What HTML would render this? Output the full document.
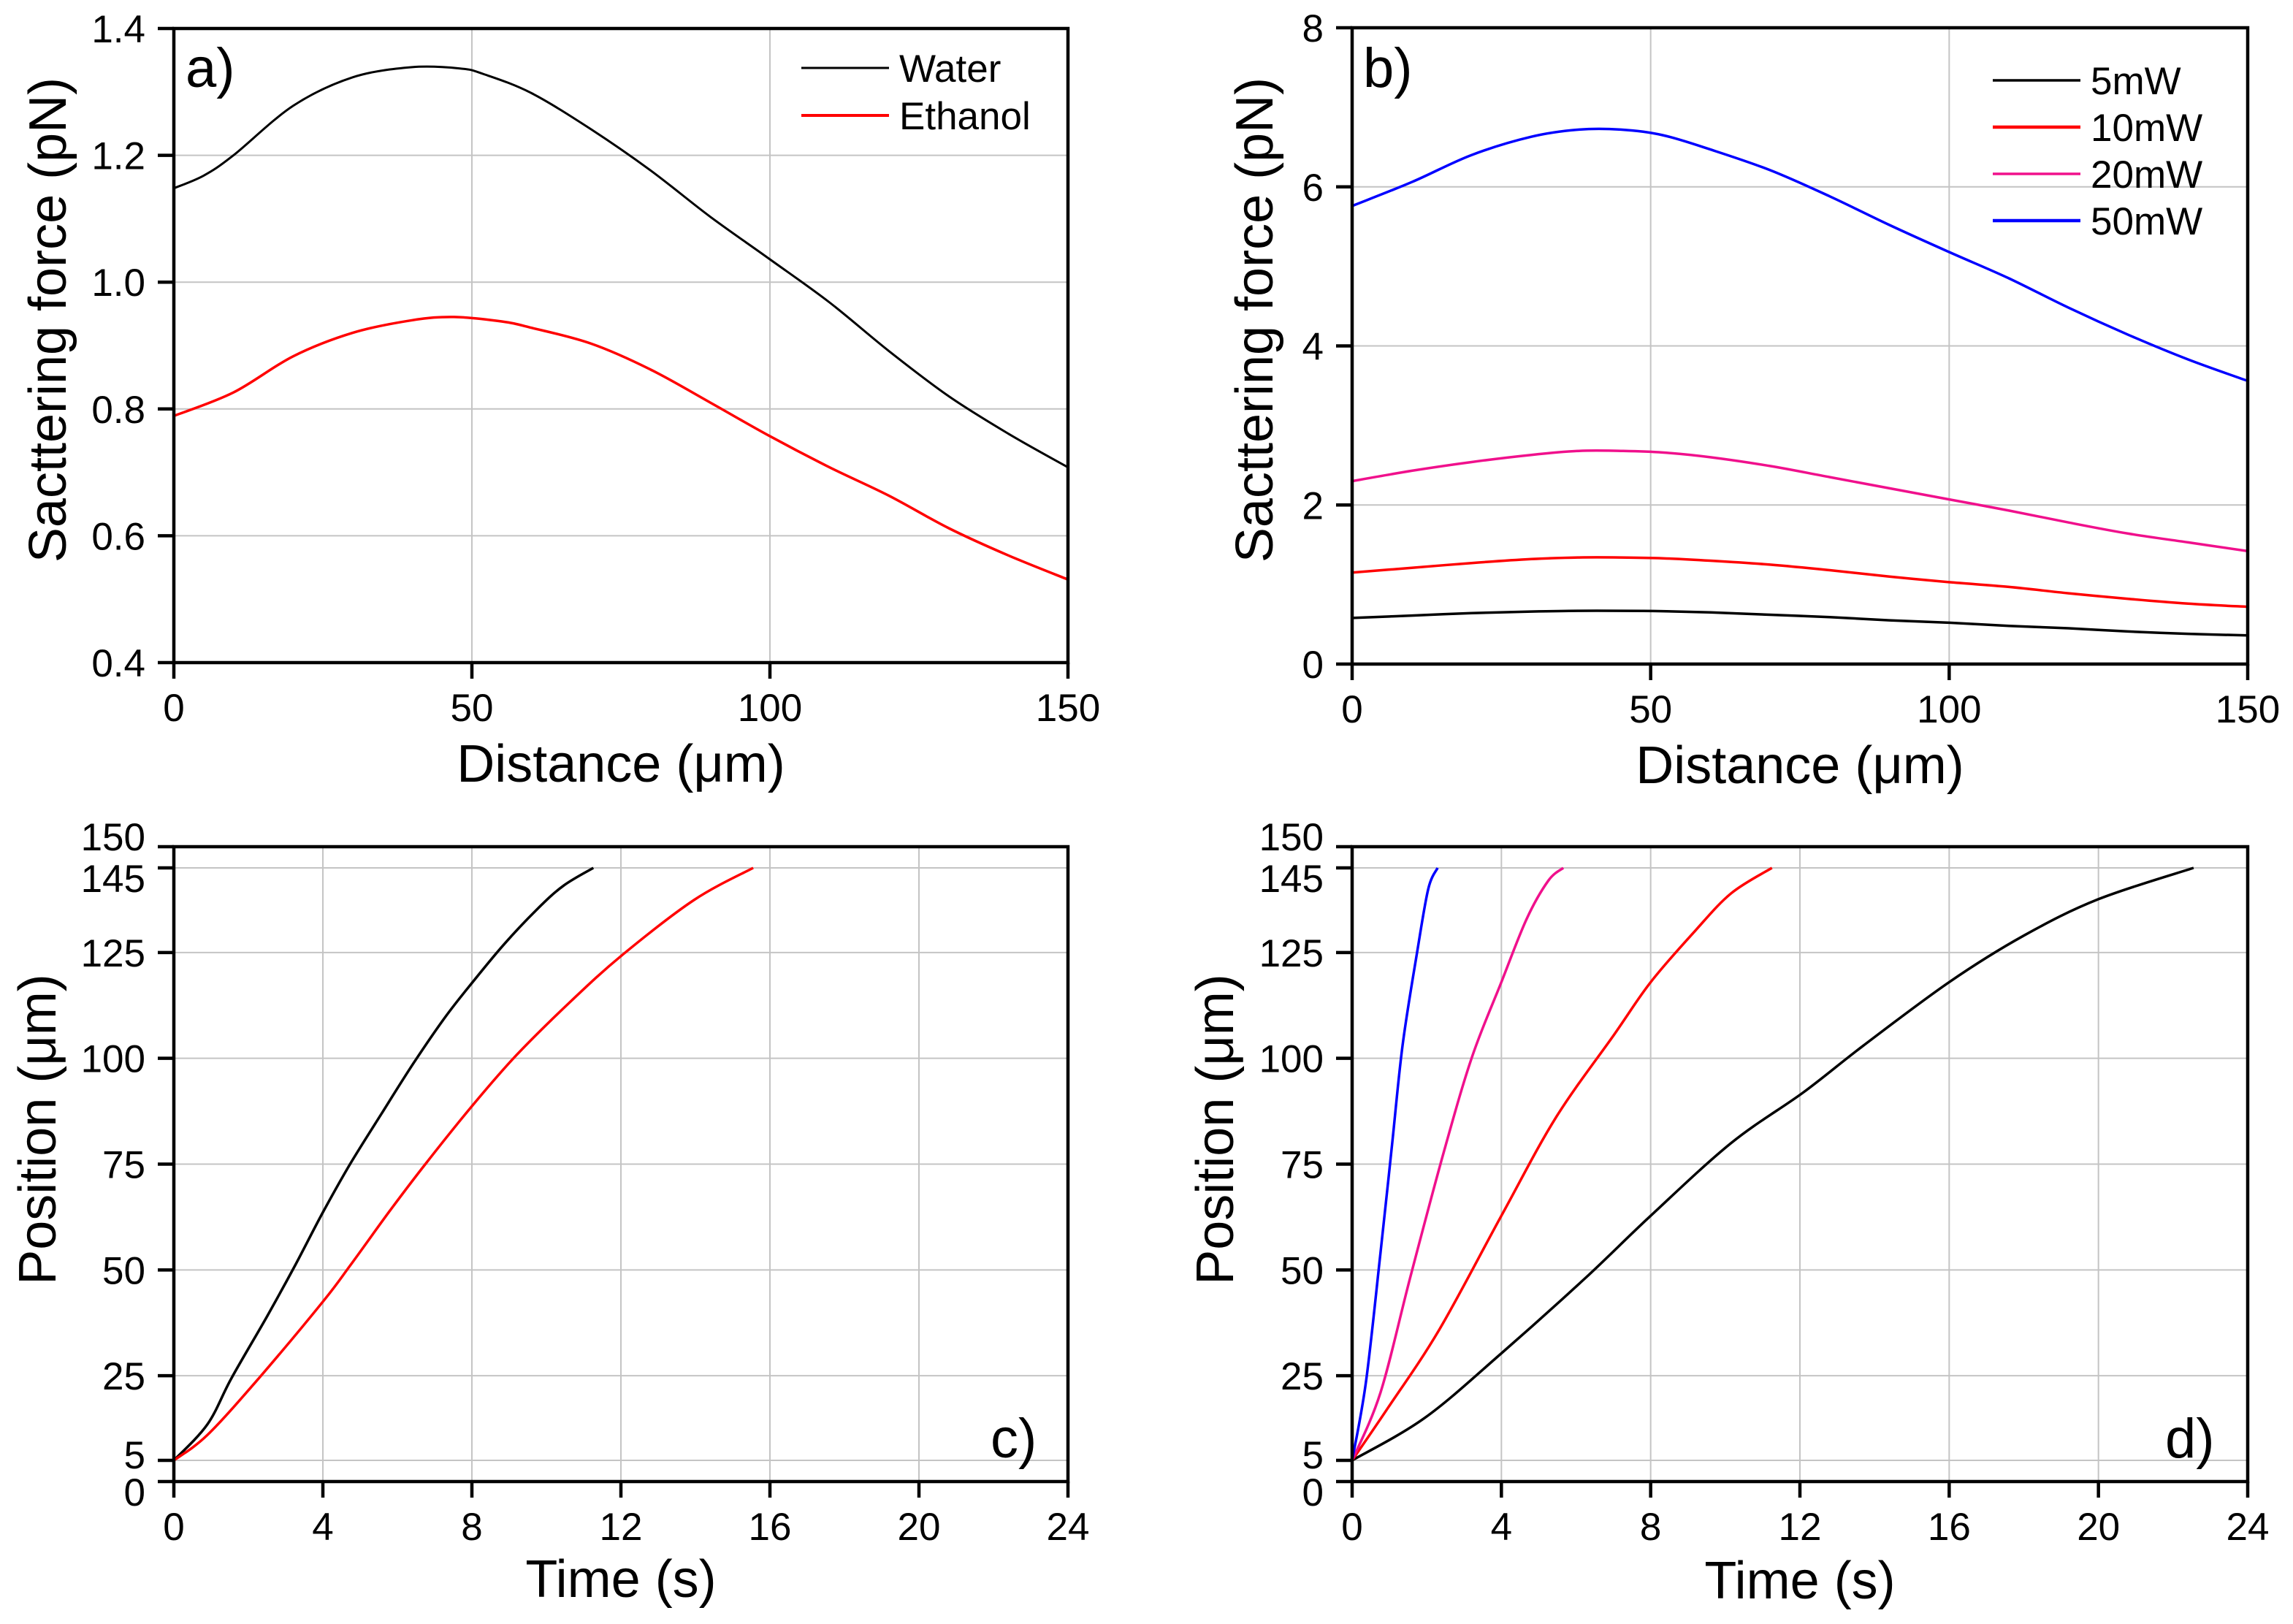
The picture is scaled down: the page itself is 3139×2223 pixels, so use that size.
<!DOCTYPE html>
<html><head><meta charset="utf-8"><style>
html,body{margin:0;padding:0;background:#fff}
svg{display:block}
text{font-family:"Liberation Sans",Arial,sans-serif;fill:#000}
</style></head><body>
<svg id="fig" width="3139" height="2223" viewBox="0 0 3139 2223" xmlns="http://www.w3.org/2000/svg">
<rect width="3139" height="2223" fill="#fff"/>
</svg>
<script>
// Panel a data
const aX = [0,5,10,20,30,40,48,52,60,70,80,90,100,110,120,130,140,150];
const aWater = [1.148,1.168,1.20,1.278,1.323,1.339,1.337,1.328,1.298,1.241,1.176,1.103,1.036,0.968,0.891,0.820,0.761,0.708];
const aEthX = [0,10,20,30,40,47,55,60,70,80,90,100,110,120,130,140,150];
const aEthanol = [0.789,0.826,0.883,0.92,0.94,0.945,0.938,0.928,0.903,0.862,0.81,0.757,0.708,0.663,0.612,0.569,0.531];
const aXTicks = [0,50,100,150];
const aYTicks = [0.4,0.6,0.8,1.0,1.2,1.4];
const aYLabels = ["0.4","0.6","0.8","1.0","1.2","1.4"];
// Panel b data
const bX = [0,10,20,30,38,45,52,60,70,80,90,100,110,120,130,140,150];
const b50 = [5.76,6.06,6.4,6.63,6.72,6.72,6.65,6.47,6.21,5.88,5.52,5.18,4.85,4.48,4.14,3.83,3.56];
const b20 = [2.30,2.43,2.54,2.63,2.68,2.68,2.66,2.60,2.49,2.35,2.21,2.07,1.93,1.78,1.64,1.53,1.42];
const b10 = [1.15,1.21,1.27,1.32,1.34,1.34,1.33,1.30,1.25,1.18,1.10,1.03,0.97,0.89,0.82,0.76,0.72];
const b5 = [0.58,0.61,0.64,0.66,0.67,0.67,0.665,0.65,0.62,0.59,0.55,0.52,0.48,0.45,0.41,0.38,0.36];
const bXTicks = [0,50,100,150];
const bYTicks = [0,2,4,6,8];
// Panel c data
const cWaterT = [0,0.9,1.55,2.5,3.25,4,4.73,5.58,6.43,7.28,8.02,8.87,9.77,10.46,11.26];
const cWaterP = [5,13.5,24.5,39,51,63.6,75,87,98.8,109.7,118,127,135.4,140.8,145];
const cEthT = [0,0.9,2.29,4,4.73,5.8,6.75,8.02,9.19,10.67,12.05,13.96,15.55];
const cEthP = [5,11,24.5,42.5,51,64,75,88.9,100.7,113.6,124.5,137.4,145];
const tTicks = [0,4,8,12,16,20,24];
const pTicks = [0,5,25,50,75,100,125,145,150];
// Panel d data
const d50T = [0,0.37,0.76,1.06,1.35,1.74,2.04,2.29];
const d50P = [5,23.5,54,78.7,103,125,140,145];
const d20T = [0,0.76,1.55,2.43,3.2,4,4.68,5.26,5.66];
const d20P = [5,21,48,77,100,118,133,142,145];
const d10T = [0,0.96,2.33,4,5.46,7.03,8,9.18,10.16,11.25];
const d10P = [5,17.4,35.8,62.8,86,105.7,118,130,139,145];
const d5T = [0,1.94,4,6.24,8,10.16,12.1,13.7,16,18,20,22.55];
const d5P = [5,15,30.3,48,62.8,80,92,103,118,129,137.6,145];

const NS="http://www.w3.org/2000/svg";
const svg=document.getElementById('fig');
function mk(tag,attrs,parent){const e=document.createElementNS(NS,tag);for(const k in attrs)e.setAttribute(k,attrs[k]);(parent||svg).appendChild(e);return e;}
function txt(s,x,y,size,anchor,parent,rot){const e=mk('text',{x:x,y:y,'font-size':size,'text-anchor':anchor||'middle'},parent);if(rot)e.setAttribute('transform',rot);e.textContent=s;return e;}
function smoothPath(pts){
  let d='M'+pts[0][0].toFixed(1)+','+pts[0][1].toFixed(1);
  for(let i=0;i<pts.length-1;i++){
    const p0=pts[i-1]||pts[i],p1=pts[i],p2=pts[i+1],p3=pts[i+2]||p2;
    const c1=[p1[0]+(p2[0]-p0[0])/6,p1[1]+(p2[1]-p0[1])/6];
    const c2=[p2[0]-(p3[0]-p1[0])/6,p2[1]-(p3[1]-p1[1])/6];
    d+=' C'+c1.map(v=>v.toFixed(1)).join(',')+' '+c2.map(v=>v.toFixed(1)).join(',')+' '+p2.map(v=>v.toFixed(1)).join(',');
  }
  return d;
}

function panel(cfg){
  const g=mk('g',{});
  
  
  const L=cfg.L,R=cfg.R,T=cfg.T,B=cfg.B;
  const sx=v=>L+(v-cfg.x0)/(cfg.x1-cfg.x0)*(R-L);
  const sy=v=>B-(v-cfg.y0)/(cfg.y1-cfg.y0)*(B-T);
  cfg.xt.forEach(v=>{const l=mk('line',{x1:sx(v),x2:sx(v),y1:T,y2:B,stroke:'#c4c4c4','stroke-width':2},g);
    });
  cfg.yt.forEach(v=>{const l=mk('line',{x1:L,x2:R,y1:sy(v),y2:sy(v),stroke:'#c4c4c4','stroke-width':2},g);
    });
  cfg.series.forEach(s=>{
    const pts=s.x.map((v,i)=>[sx(v),sy(s.y[i])]);
    const p=mk('path',{d:smoothPath(pts),fill:'none',stroke:s.color,'stroke-width':s.w||3.5,'stroke-linejoin':'round'},g);
    
    
  });
  const f=mk('rect',{x:L,y:T,width:R-L,height:B-T,fill:'none',stroke:'#000','stroke-width':4.5},g);
  
  
  cfg.xt.forEach((v,i)=>{mk('line',{x1:sx(v),x2:sx(v),y1:B,y2:B+22,stroke:'#000','stroke-width':4.5},g);
    const t=txt(cfg.xl?cfg.xl[i]:String(v),sx(v),B+80,53,'middle',g);
    });
  cfg.yt.forEach((v,i)=>{mk('line',{x1:L-22,x2:L,y1:sy(v),y2:sy(v),stroke:'#000','stroke-width':4.5},g);
    const off=(cfg.yoff&&cfg.yoff[v])||0;
    const t=txt(cfg.yl?cfg.yl[i]:String(v),L-39,sy(v)+19+off,53,'end',g);
    });
  const xt=txt(cfg.xtitle,(L+R)/2,cfg.xtY,72,'middle',g);
  
  const yt=txt(cfg.ytitle,0,0,72,'middle',g,`translate(${cfg.ytX},${cfg.ytY}) rotate(-90)`);
  
  const pl=txt(cfg.label,cfg.lx,cfg.ly,76,'start',g);
  
  if(cfg.legend){
    cfg.legend.forEach((e,i)=>{
      const y=cfg.legY+i*cfg.legDy;
      const lg=mk('g',{},g);
      
      
      mk('line',{x1:cfg.legX,x2:cfg.legX+120,y1:y,y2:y,stroke:e.color,'stroke-width':e.w||3.5},lg);
      txt(e.label,cfg.legX+134,y+19,53,'start',lg);
    });
  }
}

panel({name:'panel-a',L:238,R:1462,T:39,B:907,x0:0,x1:150,y0:0.4,y1:1.4,xt:aXTicks,yt:aYTicks,yl:aYLabels,
  xtitle:'Distance (μm)',xtY:1070,ytitle:'Sacttering force (pN)',ytX:90,ytY:438,label:'a)',lx:254,ly:119,
  series:[{name:'water-line',x:aX,y:aWater,color:'#000',w:3},{name:'ethanol-line',x:aEthX,y:aEthanol,color:'#ff0000',w:3.5}],
  legend:[{label:'Water',color:'#000',w:3},{label:'Ethanol',color:'#ff0000',w:4}],legX:1097,legY:93,legDy:65});
panel({name:'panel-b',L:1851,R:3077,T:38,B:909,x0:0,x1:150,y0:0,y1:8,xt:bXTicks,yt:bYTicks,
  xtitle:'Distance (μm)',xtY:1072,ytitle:'Sacttering force (pN)',ytX:1742,ytY:438,label:'b)',lx:1866,ly:119,
  series:[{name:'5mw-line',x:bX,y:b5,color:'#000'},{name:'10mw-line',x:bX,y:b10,color:'#ff0000'},{name:'20mw-line',x:bX,y:b20,color:'#f0108c'},{name:'50mw-line',x:bX,y:b50,color:'#0000ff'}],
  legend:[{label:'5mW',color:'#000'},{label:'10mW',color:'#ff0000',w:4.5},{label:'20mW',color:'#f0108c'},{label:'50mW',color:'#0000ff',w:4.5}],legX:2728,legY:110,legDy:64});
panel({name:'panel-c',L:238,R:1462,T:1159,B:2028,x0:0,x1:24,y0:0,y1:150,xt:tTicks,yt:pTicks,yoff:{150:-14,145:14,5:-8,0:14},
  xtitle:'Time (s)',xtY:2186,ytitle:'Position (μm)',ytX:76,ytY:1546,label:'c)',lx:1356,ly:1995,
  series:[{name:'water-position-line',x:cWaterT,y:cWaterP,color:'#000'},{name:'ethanol-position-line',x:cEthT,y:cEthP,color:'#ff0000'}]});
panel({name:'panel-d',L:1851,R:3077,T:1159,B:2028,x0:0,x1:24,y0:0,y1:150,xt:tTicks,yt:pTicks,yoff:{150:-14,145:14,5:-8,0:14},
  xtitle:'Time (s)',xtY:2188,ytitle:'Position (μm)',ytX:1688,ytY:1546,label:'d)',lx:2964,ly:1995,
  series:[{name:'5mw-position-line',x:d5T,y:d5P,color:'#000'},{name:'10mw-position-line',x:d10T,y:d10P,color:'#ff0000'},{name:'20mw-position-line',x:d20T,y:d20P,color:'#f0108c'},{name:'50mw-position-line',x:d50T,y:d50P,color:'#0000ff'}]});
</script>
</body></html>
